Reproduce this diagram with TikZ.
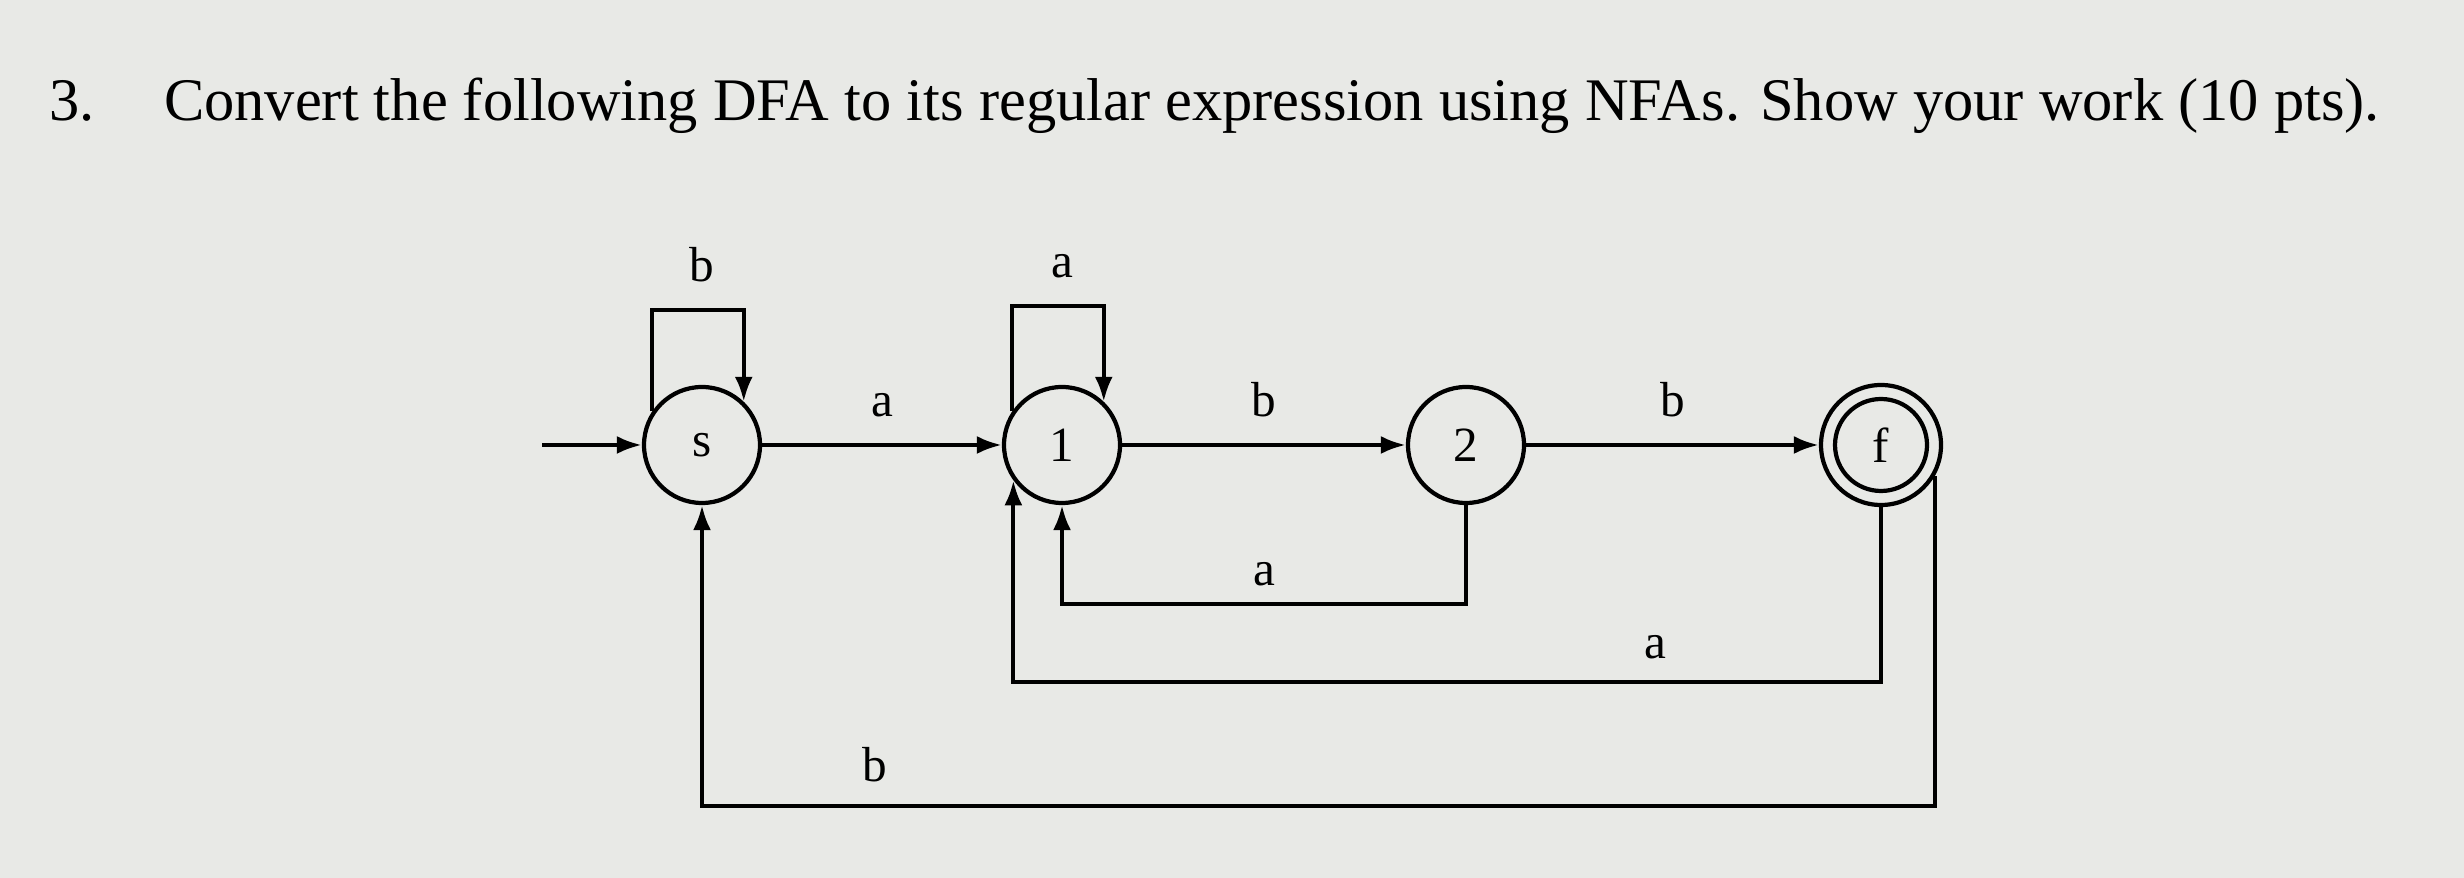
\documentclass[tikz,border=0pt]{standalone}
\usepackage{fontspec}
\setmainfont{Liberation Serif}
\usetikzlibrary{arrows.meta}

\definecolor{paper}{RGB}{232,233,230}
\tikzset{
  state/.style={circle, draw, line width=1.2pt, minimum size=11.6mm, inner sep=0pt, font=\fontsize{14}{16}\selectfont},
  lbl/.style={font=\fontsize{14}{16}\selectfont},
}

\begin{document}
\begin{tikzpicture}[x=0.1mm, y=-0.1mm, >={Latex[length=2.5mm,width=1.8mm]}, line width=1.2pt]
		\fill[paper] (0,0) rectangle (2464,878);
		\useasboundingbox (0,0) rectangle (2464,878);
		% question text
		\node[anchor=base west, inner sep=0pt, font=\fontsize{17.2}{20}\selectfont] (num) at (47,121) {3.};
		\node[anchor=base west, inner sep=0pt, font=\fontsize{17.2}{20}\selectfont] (title) at (162,121) {Convert the following DFA to its regular expression using NFAs. Show your work (10 pts).};
		% states
		\node[state] (s) at (702,445) {s};
		\node[state] (one) at (1062,445) {1};
		\node[state] (two) at (1466,445) {2};
		\node[state, minimum size=12mm] (f) at (1881,445) {f};
		\draw (f) circle (46);
		% start arrow and forward moves
		\coordinate (start) at (542,445);
		\draw[->] (start) -- (s);
		\draw[->] (s) -- node[lbl, above=1.4mm] {a} (one);
		\draw[->] (one) -- node[lbl, above=1.4mm] {b} (two);
		\draw[->] (two) -- node[lbl, above=1.4mm] {b} (f);
		% self loops
		\coordinate (sl) at (702,310);
		\coordinate (ol) at (1062,306);
		\draw[->] (s.146) |- (sl) node[lbl, above=1.4mm] {b} -| (s.46);
		\draw[->] (one.146) |- (ol) node[lbl, above=1.4mm] {a} -| (one.46);
		% moves back
		\draw[->] (two.south) -- ++(0,99) -| (one.south) node[lbl, pos=0.25, above=0.4mm] {a};
		\draw[->] (f.south) -- ++(0,175) -| (one.216) node[lbl, pos=0.13, above=0.9mm] {a};
		\draw[->] (f.-30) -- ++(0,330) -| (s.south) node[lbl, pos=0.43, above=1mm] {b};
	\end{tikzpicture}
\end{document}
